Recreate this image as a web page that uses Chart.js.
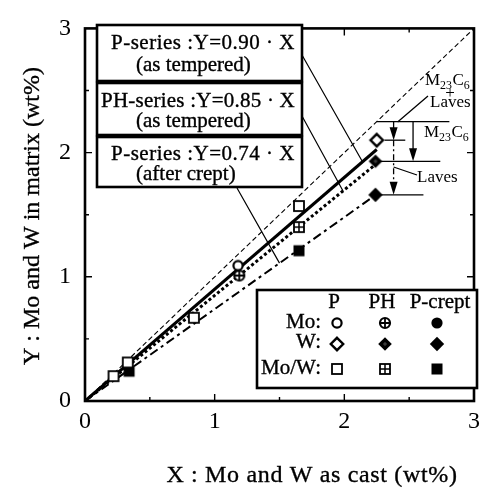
<!DOCTYPE html>
<html lang="en">
<head>
<meta charset="UTF-8">
<title>Mo and W in matrix vs as cast</title>
<script src="https://cdn.jsdelivr.net/npm/chart.js"></script>
<style>
    * { margin: 0; padding: 0; box-sizing: border-box; }
    body { background: #fff; }
    .wrap { width: 486px; height: 491px; position: relative; }
</style>
</head>
<body>
<div class="wrap"><canvas id="chart"></canvas></div>
<script>
// values (wt%), x = as cast, y = in matrix
const pMo   = [{x: 1.18, y: 1.09}];
const pW    = [{x: 2.25, y: 2.10}];
const pMoW  = [{x: 0.22, y: 0.20}, {x: 0.33, y: 0.31}, {x: 0.84, y: 0.67}, {x: 1.65, y: 1.57}];
const phMo  = [{x: 1.19, y: 1.01}];
const phW   = [{x: 2.24, y: 1.93}];
const phMoW = [{x: 1.65, y: 1.40}];
const crW   = [{x: 2.24, y: 1.66}];
const crMoW = [{x: 0.34, y: 0.24}, {x: 1.65, y: 1.21}];

// reference line Y=X and the three fitted lines (end points)
const lineYX  = [{x: 0, y: 0}, {x: 3, y: 3}];
const line090 = [{x: 0, y: 0}, {x: 2.25, y: 2.025}];
const line085 = [{x: 0, y: 0}, {x: 2.25, y: 1.9125}];
const line074 = [{x: 0, y: 0}, {x: 2.25, y: 1.665}];

const axisTicks = [0, 1, 2, 3];
const minorTicks = [0.5, 1, 1.5, 2, 2.5];

const SERIF = '"Liberation Serif", "Times New Roman", serif';

// marker glyphs
function makeMarker(kind) {
    const s = 18, m = s / 2;
    const c = document.createElement('canvas');
    c.width = s; c.height = s;
    const g = c.getContext('2d');
    g.strokeStyle = '#000';
    g.fillStyle = '#000';
    const diamond = (h) => {
        g.beginPath();
        g.moveTo(m, m - h); g.lineTo(m + h, m); g.lineTo(m, m + h); g.lineTo(m - h, m);
        g.closePath();
    };
    const cross = (h, lw) => {
        g.lineWidth = lw;
        g.beginPath();
        g.moveTo(m - h, m); g.lineTo(m + h, m);
        g.moveTo(m, m - h); g.lineTo(m, m + h);
        g.stroke();
    };
    if (kind === 'oCircle') {
        g.beginPath(); g.arc(m, m, 4.6, 0, Math.PI * 2);
        g.fillStyle = '#fff'; g.fill(); g.lineWidth = 2.2; g.stroke();
    } else if (kind === 'oDiamond') {
        diamond(6.2); g.fillStyle = '#fff'; g.fill(); g.lineWidth = 2.4; g.stroke();
    } else if (kind === 'oSquare') {
        g.fillStyle = '#fff'; g.fillRect(m - 5, m - 5, 10, 10);
        g.lineWidth = 1.8; g.strokeRect(m - 5, m - 5, 10, 10);
    } else if (kind === 'pCircle') {
        g.beginPath(); g.arc(m, m, 5, 0, Math.PI * 2);
        g.fillStyle = '#fff'; g.fill(); g.lineWidth = 2.2; g.stroke();
        cross(5, 1.8);
    } else if (kind === 'pDiamond') {
        diamond(6.8); g.fill();
        g.strokeStyle = '#666'; cross(2, 0.7);
    } else if (kind === 'pSquare') {
        g.fillStyle = '#fff'; g.fillRect(m - 5, m - 5, 10, 10);
        g.lineWidth = 1.8; g.strokeRect(m - 5, m - 5, 10, 10);
        cross(5, 1.5);
    } else if (kind === 'fCircle') {
        g.beginPath(); g.arc(m, m, 5.6, 0, Math.PI * 2); g.fill();
    } else if (kind === 'fDiamond') {
        diamond(7.2); g.fill();
    } else if (kind === 'fSquare') {
        g.fillRect(m - 5.5, m - 5.5, 11, 11);
    }
    return c;
}

const mk = {};
['oCircle', 'oDiamond', 'oSquare', 'pCircle', 'pDiamond', 'pSquare', 'fCircle', 'fDiamond', 'fSquare']
    .forEach(k => mk[k] = makeMarker(k));

function pointSet(data, style) {
    return { type: 'scatter', data: data, pointStyle: mk[style], pointRadius: 6, pointHoverRadius: 6, order: 0 };
}
function lineSet(data, width, dash) {
    return {
        type: 'line', data: data, borderColor: '#000', borderWidth: width, borderDash: dash,
        pointRadius: 0, fill: false, tension: 0, order: 1
    };
}

// text, optionally spread with letter spacing to a target width; a thin stroke thickens it a bit
function fitText(ctx, str, x, y, size, width, align) {
    ctx.font = size + 'px ' + SERIF;
    ctx.textAlign = align || 'left';
    ctx.textBaseline = 'alphabetic';
    const hasLs = 'letterSpacing' in ctx;
    if (hasLs) ctx.letterSpacing = '0px';
    const w = ctx.measureText(str).width;
    if (width && hasLs) {
        ctx.letterSpacing = Math.max(0, (width - w) / str.length).toFixed(2) + 'px';
    }
    ctx.fillText(str, x, y);
    ctx.lineWidth = 0.35;
    ctx.strokeText(str, x, y);
    if (hasLs) ctx.letterSpacing = '0px';
}

function chem(ctx, x, y, size) {
    // M23C6 with subscripts
    ctx.textAlign = 'left';
    ctx.font = size + 'px ' + SERIF;
    ctx.fillText('M', x, y); x += ctx.measureText('M').width;
    ctx.font = (size * 0.7) + 'px ' + SERIF;
    ctx.fillText('23', x, y + 4); x += ctx.measureText('23').width + 0.5;
    ctx.font = size + 'px ' + SERIF;
    ctx.fillText('C', x, y); x += ctx.measureText('C').width;
    ctx.font = (size * 0.7) + 'px ' + SERIF;
    ctx.fillText('6', x, y + 4);
}

function arrowDown(ctx, ax, y0, tip) {
    ctx.beginPath(); ctx.moveTo(ax, y0); ctx.lineTo(ax, tip - 10); ctx.stroke();
    ctx.beginPath();
    ctx.moveTo(ax, tip); ctx.lineTo(ax - 4, tip - 13); ctx.lineTo(ax + 4, tip - 13);
    ctx.closePath(); ctx.fill();
}

const decor = {
    id: 'decor',
    afterDatasetsDraw(chart) {
        const { ctx, chartArea: a, scales: { x, y } } = chart;
        const px = v => x.getPixelForValue(v);
        const py = v => y.getPixelForValue(v);
        ctx.save();
        ctx.strokeStyle = '#000';
        ctx.fillStyle = '#000';

        // frame and inward ticks
        ctx.lineWidth = 2.6;
        ctx.strokeRect(a.left, a.top, a.right - a.left, a.bottom - a.top);
        ctx.lineWidth = 1.4;
        minorTicks.forEach(v => {
            const len = Number.isInteger(v) ? 7 : 4;
            ctx.beginPath();
            ctx.moveTo(px(v), a.bottom); ctx.lineTo(px(v), a.bottom - len);
            ctx.moveTo(px(v), a.top); ctx.lineTo(px(v), a.top + len);
            ctx.moveTo(a.left, py(v)); ctx.lineTo(a.left + len, py(v));
            ctx.moveTo(a.right, py(v)); ctx.lineTo(a.right - len, py(v));
            ctx.stroke();
        });

        // leader lines from the equation boxes
        ctx.lineWidth = 1.2;
        ctx.beginPath();
        ctx.moveTo(302, 55); ctx.lineTo(px(2.14), py(0.90 * 2.14));
        ctx.moveTo(302, 116); ctx.lineTo(px(1.99), py(0.85 * 1.99));
        ctx.moveTo(237, 188); ctx.lineTo(px(1.50), py(0.74 * 1.50));
        ctx.stroke();

        // equation boxes
        const boxes = [
            { t: 25, h: 56, l1: 'P-series :Y=0.90 \u00b7 X', w1: 184, b1: 49, l2: '(as tempered)', b2: 71 },
            { t: 83, h: 52, l1: 'PH-series :Y=0.85 \u00b7 X', w1: 194, b1: 107, l2: '(as tempered)', b2: 127 },
            { t: 137, h: 50, l1: 'P-series :Y=0.74 \u00b7 X', w1: 184, b1: 160, l2: '(after crept)', b2: 180 }
        ];
        boxes.forEach(b => {
            ctx.fillStyle = '#fff';
            ctx.fillRect(97, b.t, 205, b.h);
            ctx.lineWidth = 2.6;
            ctx.strokeRect(97, b.t, 205, b.h);
            ctx.fillStyle = '#000';
            fitText(ctx, b.l1, 295, b.b1, 21, b.w1, 'right');
            fitText(ctx, b.l2, 136, b.b2, 21, 0, 'left');
        });

        // precipitation annotations on the right
        ctx.lineWidth = 1.3;
        const hl = (v, x0, x1) => {
            ctx.beginPath(); ctx.moveTo(px(x0), py(v)); ctx.lineTo(px(x1), py(v)); ctx.stroke();
        };
        hl(2.25, 2.25, 2.81);
        hl(pW[0].y, 2.31, 2.47);
        hl(phW[0].y, 2.27, 2.74);
        hl(crW[0].y, 2.27, 2.61);
        arrowDown(ctx, px(2.38), py(2.25), py(pW[0].y));
        arrowDown(ctx, px(2.53), py(2.25), py(phW[0].y));
        ctx.setLineDash([6, 3, 2, 3]);
        ctx.beginPath();
        ctx.moveTo(px(2.38), py(pW[0].y)); ctx.lineTo(px(2.38), py(crW[0].y) - 10);
        ctx.stroke();
        ctx.setLineDash([]);
        arrowDown(ctx, px(2.38), py(crW[0].y) - 10, py(crW[0].y));
        ctx.beginPath();
        ctx.moveTo(428, 96); ctx.lineTo(px(2.38) + 4, 122);
        ctx.moveTo(417, 175); ctx.lineTo(px(2.38), 167);
        ctx.stroke();

        chem(ctx, 425, 85, 17);
        ctx.font = '17px ' + SERIF;
        ctx.textAlign = 'center';
        ctx.fillText('+', 450, 98);
        ctx.textAlign = 'left';
        ctx.fillText('Laves', 430, 107);
        chem(ctx, 424, 137, 17);
        ctx.font = '17px ' + SERIF;
        ctx.fillText('Laves', 417, 182);

        // legend table
        ctx.fillStyle = '#fff';
        ctx.fillRect(257, 290, 220, 98);
        ctx.lineWidth = 2.6;
        ctx.strokeRect(257, 290, 220, 98);
        ctx.fillStyle = '#000';
        fitText(ctx, 'P', 334, 308, 21, 0, 'center');
        fitText(ctx, 'PH', 382, 308, 21, 0, 'center');
        fitText(ctx, 'P-crept', 440, 308, 21, 0, 'center');
        fitText(ctx, 'Mo:', 321, 328, 21, 0, 'right');
        fitText(ctx, 'W:', 321, 348, 21, 0, 'right');
        fitText(ctx, 'Mo/W:', 321, 374, 21, 0, 'right');
        const rows = [
            ['oCircle', 'pCircle', 'fCircle'],
            ['oDiamond', 'pDiamond', 'fDiamond'],
            ['oSquare', 'pSquare', 'fSquare']
        ];
        const rowY = [323, 344, 369], colX = [337, 385, 437];
        rows.forEach((r, i) => r.forEach((k, j) => {
            ctx.drawImage(mk[k], colX[j] - 9, rowY[i] - 9);
        }));

        // axis titles
        fitText(ctx, 'X : Mo and W as cast (wt%)', 312, 482, 24, 291, 'center');
        ctx.translate(39, 216);
        ctx.rotate(-Math.PI / 2);
        fitText(ctx, 'Y : Mo and W in matrix (wt%)', 0, 0, 24, 292, 'center');
        ctx.restore();
    }
};

new Chart(document.getElementById('chart'), {
    data: {
        datasets: [
            pointSet(pMo, 'oCircle'),
            pointSet(pW, 'oDiamond'),
            pointSet(pMoW, 'oSquare'),
            pointSet(phMo, 'pCircle'),
            pointSet(phW, 'pDiamond'),
            pointSet(phMoW, 'pSquare'),
            pointSet(crW, 'fDiamond'),
            pointSet(crMoW, 'fSquare'),
            lineSet(lineYX, 1.1, [5, 3]),
            lineSet(line090, 3, []),
            lineSet(line085, 3, [3, 2.5]),
            lineSet(line074, 2, [9, 4, 3, 4])
        ]
    },
    options: {
        responsive: true,
        maintainAspectRatio: false,
        animation: false,
        events: [],
        layout: { padding: { top: 21, right: 5, left: 0, bottom: 0 } },
        plugins: { legend: { display: false }, tooltip: { enabled: false } },
        scales: {
            x: {
                type: 'linear', min: 0, max: 3,
                afterFit: s => { s.height = 90; },
                afterBuildTicks: s => { s.ticks = axisTicks.map(v => ({ value: v })); },
                grid: { display: false, drawTicks: false },
                border: { display: false },
                ticks: { color: '#000', padding: 6, font: { family: SERIF, size: 24 } }
            },
            y: {
                type: 'linear', min: 0, max: 3,
                afterFit: s => { s.width = 85; },
                afterBuildTicks: s => { s.ticks = axisTicks.map(v => ({ value: v })); },
                grid: { display: false, drawTicks: false },
                border: { display: false },
                ticks: { color: '#000', padding: 14, font: { family: SERIF, size: 24 } }
            }
        }
    },
    plugins: [decor]
});
</script>
</body>
</html>
